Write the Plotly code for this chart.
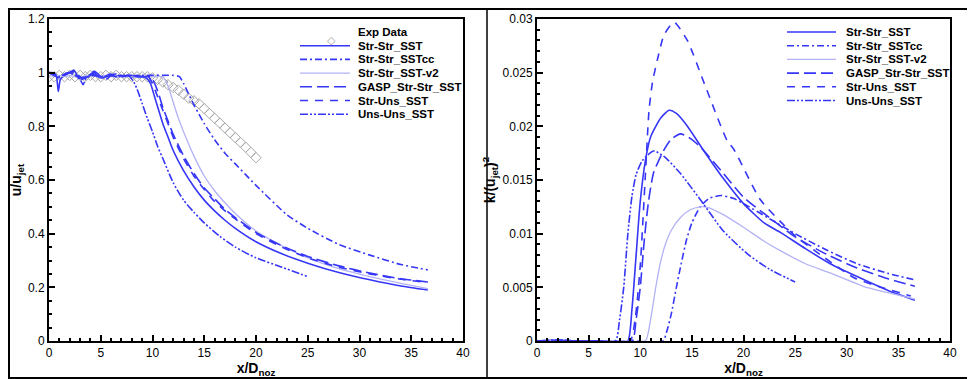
import plotly.graph_objects as go
from plotly.subplots import make_subplots

W, H = 975, 379
OFF = 8  # page body margin the figure sits inside
BLUE = "#3636f7"
LIGHT = "#b2b2f5"
GREY = "#a6a6a6"
FONT = "Liberation Sans, Arial, Helvetica, sans-serif"

# ── left panel: centreline velocity u/u_jet ───────────────────────────────
exp_x = [0, 0.5, 1, 1.5, 2, 2.5, 3, 3.5, 4, 4.5, 5, 5.5, 6, 6.5, 7, 7.5, 8, 8.5,
         9, 9.5, 10, 10.5, 11, 11.5, 12, 12.5, 13, 13.5, 14, 14.5, 15, 15.5, 16,
         16.5, 17, 17.5, 18, 18.5, 19, 19.5, 20]
exp_u = [0.985, 0.985, 0.99, 0.985, 0.99, 0.985, 0.99, 0.985, 0.99, 0.985, 0.985,
         0.99, 0.985, 0.99, 0.985, 0.985, 0.985, 0.985, 0.985, 0.985, 0.98, 0.975,
         0.965, 0.955, 0.945, 0.935, 0.92, 0.905, 0.895, 0.884, 0.866, 0.848,
         0.83, 0.812, 0.794, 0.776, 0.758, 0.74, 0.722, 0.703, 0.683]

sst_x = [0, 0.4, 0.7, 0.9, 1.1, 1.5, 2.0, 2.4, 2.8, 3.2, 3.6, 4.0, 4.3, 4.7, 5.2,
         5.6, 6.0, 6.4, 6.8, 7.2, 7.6, 8.0, 8.5, 9.0, 9.4, 9.8, 10.2, 10.6, 11.0,
         11.5, 12, 13, 14, 15, 16, 17, 18, 20, 22.5, 25, 28, 31, 34, 36.6]
sst_u = [1.0, 1.0, 0.99, 0.93, 0.975, 0.99, 1.0, 1.01, 0.985, 0.975, 0.985, 0.99,
         1.005, 0.985, 0.98, 0.99, 0.995, 0.985, 0.99, 0.985, 0.99, 0.985, 0.99,
         0.985, 0.98, 0.96, 0.91, 0.86, 0.81, 0.76, 0.71, 0.635, 0.575, 0.525,
         0.485, 0.45, 0.42, 0.37, 0.325, 0.29, 0.255, 0.228, 0.205, 0.19]

sstcc_x = [0, 0.5, 1.0, 1.6, 2.2, 2.6, 3.2, 3.8, 4.4, 5.0, 5.8, 6.6, 7.4, 8.2, 9,
           10, 11, 12, 12.6, 13, 13.5, 14, 14.5, 15, 16, 17, 18, 19, 20, 23, 25,
           28, 31, 34, 36.6]
sstcc_u = [1.0, 0.995, 0.985, 0.995, 1.005, 0.99, 0.98, 0.99, 1.0, 0.985, 0.99,
           0.985, 0.99, 0.985, 0.99, 0.99, 0.99, 0.99, 0.985, 0.96, 0.92, 0.88,
           0.845, 0.81, 0.75, 0.70, 0.66, 0.62, 0.58, 0.47, 0.42, 0.36, 0.32,
           0.285, 0.265]

v2_x = [0, 0.5, 1.0, 1.5, 2.0, 2.5, 3.0, 3.5, 4.0, 4.5, 5.0, 5.5, 6.0, 7.0, 8.0,
        9.0, 10.0, 11.0, 11.5, 12, 12.5, 13, 14, 15, 16, 17, 18, 20, 22.5, 25, 28,
        31, 34, 36.6]
v2_u = [0.99, 0.985, 0.99, 0.985, 0.99, 0.985, 0.98, 0.99, 0.985, 0.99, 0.985,
        0.99, 0.985, 0.985, 0.985, 0.985, 0.985, 0.985, 0.95, 0.89, 0.83, 0.78,
        0.69, 0.615, 0.56, 0.515, 0.475, 0.41, 0.355, 0.31, 0.27, 0.24, 0.215,
        0.195]

gasp_x = [0, 0.5, 1.0, 1.5, 2.0, 2.5, 3.0, 3.5, 4.0, 4.4, 5.0, 5.5, 6.0, 6.5, 7.0,
          7.5, 8.0, 8.5, 9.0, 9.8, 10.2, 10.6, 11, 11.5, 12, 13, 14, 15, 16, 17,
          18, 20, 22.5, 25, 28, 31, 34, 36.6]
gasp_u = [1.0, 0.99, 0.98, 0.995, 1.0, 1.005, 0.985, 0.98, 0.99, 1.005, 0.985,
          0.975, 0.99, 0.995, 0.985, 0.99, 0.99, 0.985, 0.985, 0.985, 0.96, 0.92,
          0.87, 0.82, 0.77, 0.69, 0.625, 0.57, 0.53, 0.49, 0.46, 0.405, 0.355,
          0.315, 0.28, 0.253, 0.232, 0.22]

struns_x = [0, 0.5, 1.0, 1.5, 2.0, 2.5, 3.0, 3.5, 4.0, 4.5, 5.0, 5.5, 6.0, 6.5,
            7.0, 7.5, 8.0, 8.5, 9.0, 9.6, 10, 10.4, 10.8, 11.2, 11.6, 12, 13, 14,
            15, 16, 17, 18, 20, 22.5, 25, 28, 31, 34, 36.6]
struns_u = [1.0, 0.995, 0.985, 0.99, 1.0, 0.99, 0.98, 0.985, 0.995, 0.99, 0.98,
            0.985, 0.99, 0.985, 0.99, 0.985, 0.99, 0.985, 0.985, 0.985, 0.96,
            0.92, 0.88, 0.84, 0.80, 0.76, 0.68, 0.615, 0.565, 0.52, 0.485, 0.455,
            0.40, 0.35, 0.31, 0.275, 0.25, 0.23, 0.218]

unsuns_x = [0, 0.5, 1.0, 1.5, 2.0, 2.5, 3.0, 3.3, 3.6, 4.2, 5.0, 5.8, 6.6, 7.4,
            7.8, 8.2, 8.6, 9, 9.5, 10, 10.5, 11, 12, 13, 14, 15, 16.5, 18, 20,
            22.5, 25]
unsuns_u = [1.0, 0.99, 0.985, 0.995, 1.0, 0.99, 0.975, 0.955, 0.98, 0.99, 0.985,
            0.99, 0.985, 0.99, 0.985, 0.965, 0.93, 0.885, 0.83, 0.78, 0.725, 0.68,
            0.59, 0.525, 0.48, 0.44, 0.39, 0.35, 0.31, 0.275, 0.24]

# ── right panel: centreline TKE k/u_jet^2 ─────────────────────────────────
k_sst_x = [0, 2, 4, 6, 8, 8.8, 9.2, 9.6, 10, 10.5, 11, 12, 12.8, 13.5, 14.5, 16.1,
           18, 20, 22, 23.6, 26, 28.4, 31, 34, 36.6]
k_sst = [0, 0.0001, 0, 0, 0, 0, 0.003, 0.008, 0.013, 0.0168, 0.019, 0.0208,
         0.0215, 0.0212, 0.0201, 0.0178, 0.0152, 0.0128, 0.0110, 0.0101, 0.0086,
         0.0072, 0.0060, 0.0047, 0.0038]

k_sstcc_x = [0, 3, 6, 9, 12.2, 12.6, 13, 13.5, 13.9, 14.5, 15, 15.8, 16.7, 17.8,
             19, 20, 22.5, 25, 28, 31, 34, 36.6]
k_sstcc = [0, 0, 0, 0, 0, 0.001, 0.0025, 0.005, 0.0069, 0.0095, 0.011, 0.0125,
           0.0133, 0.01355, 0.0133, 0.0128, 0.0114, 0.0100, 0.0085, 0.0072,
           0.0063, 0.0057]

k_v2_x = [0, 3, 6, 9, 10.5, 11, 11.5, 12, 12.5, 13, 13.9, 14.8, 15.8, 16.5, 18,
          20, 22, 23.6, 26, 28.5, 31.6, 34, 36.6]
k_v2 = [0, 0, 0, 0, 0, 0.002, 0.005, 0.0075, 0.0092, 0.0103, 0.0115, 0.0122,
        0.0125, 0.01246, 0.0118, 0.0106, 0.0093, 0.0084, 0.0072, 0.0063, 0.0051,
        0.0045, 0.0039]

k_gasp_x = [0, 3, 6, 9.2, 9.6, 10, 10.4, 10.8, 11.3, 12.3, 13, 13.9, 14.8, 15.8,
            17.8, 20, 22.5, 25, 28, 31, 34, 36.6]
k_gasp = [0, 0, 0, 0, 0.002, 0.005, 0.0095, 0.013, 0.0157, 0.0178, 0.0188,
          0.0193, 0.0189, 0.0181, 0.0159, 0.0134, 0.0115, 0.0097, 0.0081, 0.0068,
          0.0058, 0.0051]

k_struns_x = [0, 3, 6, 9, 9.5, 10, 10.5, 10.85, 11.2, 11.66, 12.3, 13.27, 14.56,
              16.2, 18.4, 19.1, 21.6, 23.6, 25, 27.5, 30.7, 33, 36.2]
k_struns = [0, 0, 0, 0, 0.002, 0.007, 0.0155, 0.0215, 0.0242, 0.0262, 0.0285,
            0.0297, 0.028, 0.024, 0.0187, 0.0178, 0.0132, 0.0111, 0.0098, 0.0080,
            0.0059, 0.0051, 0.0042]

k_unsuns_x = [0, 2, 4, 6, 7.6, 8.0, 8.4, 8.8, 9.2, 9.6, 10.2, 11.3, 12.3, 13.9,
              16.1, 18, 20.4, 22.5, 25]
k_unsuns = [0, 0.0001, 0, 0, 0, 0.002, 0.005, 0.010, 0.0135, 0.0155, 0.0168,
            0.0177, 0.0172, 0.0156, 0.0128, 0.0103, 0.0081, 0.0067, 0.0055]

names = ["Str-Str_SST", "Str-Str_SSTcc", "Str-Str_SST-v2", "GASP_Str-Str_SST",
         "Str-Uns_SST", "Uns-Uns_SST"]
styles = {
    "Str-Str_SST": dict(color=BLUE, dash="solid", width=1.6),
    "Str-Str_SSTcc": dict(color=BLUE, dash="7px,3px,2px,3px", width=1.6),
    "Str-Str_SST-v2": dict(color=LIGHT, dash="solid", width=1.3),
    "GASP_Str-Str_SST": dict(color=BLUE, dash="12px,5px", width=1.6),
    "Str-Uns_SST": dict(color=BLUE, dash="8px,7px", width=1.6),
    "Uns-Uns_SST": dict(color=BLUE, dash="8px,2px,2px,2px,2px,2px", width=1.6),
}
left_series = [(sst_x, sst_u), (sstcc_x, sstcc_u), (v2_x, v2_u),
               (gasp_x, gasp_u), (struns_x, struns_u), (unsuns_x, unsuns_u)]
right_series = [(k_sst_x, k_sst), (k_sstcc_x, k_sstcc), (k_v2_x, k_v2),
                (k_gasp_x, k_gasp), (k_struns_x, k_struns), (k_unsuns_x, k_unsuns)]

fig = make_subplots(rows=1, cols=2)

fig.add_trace(go.Scatter(x=exp_x, y=exp_u, mode="markers", name="Exp Data",
                         marker=dict(symbol="diamond-open", size=8, color=GREY,
                                     line=dict(width=1))),
              row=1, col=1)
for name, (xs, ys) in zip(names, left_series):
    fig.add_trace(go.Scatter(x=xs, y=ys, mode="lines", name=name,
                             line=dict(shape="spline", smoothing=0.6, **styles[name])),
                  row=1, col=1)
for name, (xs, ys) in zip(names, right_series):
    fig.add_trace(go.Scatter(x=xs, y=ys, mode="lines", name=name,
                             line=dict(shape="spline", smoothing=0.6, **styles[name])),
                  row=1, col=2)


# screen pixel -> paper fraction (figure div starts OFF px into the page)
def px_x(p):
    return (p - OFF) / W


def px_y(p):
    return 1 - (p - OFF) / H


# ── hand-made legends (Tecplot style, tight rows) ─────────────────────────
def add_legend(entries, line_x0, line_x1, text_x, row_y):
    for i, name in enumerate(entries):
        y = px_y(row_y + i * 13.7)
        if name == "Exp Data":
            fig.add_annotation(x=px_x((line_x0 + line_x1) / 2), y=y, xref="paper",
                               yref="paper", text="◇", showarrow=False,
                               font=dict(size=11, color=GREY, family="DejaVu Sans"))
        else:
            st = styles[name]
            fig.add_shape(type="line", xref="paper", yref="paper",
                          x0=px_x(line_x0), x1=px_x(line_x1), y0=y, y1=y,
                          line=dict(color=st["color"], dash=st["dash"], width=st["width"]))
        fig.add_annotation(x=px_x(text_x), y=y, xref="paper", yref="paper",
                           text=f"<b>{name}</b>", showarrow=False, xanchor="left",
                           yanchor="middle", font=dict(size=11.5, color="black"))


add_legend(["Exp Data"] + names, 300, 350, 356, 32)
add_legend(names, 787, 836, 844, 32)

# outer frames
fig.add_shape(type="rect", xref="paper", yref="paper", x0=px_x(OFF + 1), x1=px_x(974),
              y0=px_y(378), y1=px_y(OFF + 1), line=dict(color="black", width=2))
fig.add_shape(type="line", xref="paper", yref="paper", x0=px_x(487), x1=px_x(487),
              y0=px_y(378), y1=px_y(OFF), line=dict(color="black", width=1.5))

axis_common = dict(showline=True, linecolor="black", linewidth=2, mirror=True,
                   showgrid=False, zeroline=False, ticks="inside", ticklen=6,
                   tickwidth=1.5, tickcolor="black", automargin=False,
                   tickfont=dict(size=12, color="black"))

fig.update_xaxes(axis_common, range=[0, 40], dtick=5,
                 minor=dict(dtick=1, ticks="inside", ticklen=3, tickcolor="black"),
                 title=dict(text="<b>x/D<sub>noz</sub></b>", font=dict(size=14),
                            standoff=2))
fig.update_xaxes(domain=[px_x(49), px_x(463)], row=1, col=1)
fig.update_xaxes(domain=[px_x(537), px_x(950)], row=1, col=2)

fig.update_yaxes(axis_common, row=1, col=1, range=[0, 1.2], dtick=0.2,
                 minor=dict(dtick=0.05, ticks="inside", ticklen=3, tickcolor="black"),
                 title=dict(text="<b>u/u<sub>jet</sub></b>", font=dict(size=14),
                            standoff=4),
                 domain=[px_y(341), px_y(19)])
fig.update_yaxes(axis_common, row=1, col=2, range=[0, 0.03], dtick=0.005,
                 minor=dict(dtick=0.001, ticks="inside", ticklen=3, tickcolor="black"),
                 title=dict(text="<b>k/(u<sub>jet</sub>)<sup>2</sup></b>",
                            font=dict(size=14), standoff=4),
                 domain=[px_y(341), px_y(19)])

fig.update_layout(template="none", width=W, height=H,
                  margin=dict(l=0, r=0, t=0, b=0, pad=0),
                  paper_bgcolor="white", plot_bgcolor="white", showlegend=False,
                  font=dict(family=FONT, color="black"))

fig.write_html("out.html")
